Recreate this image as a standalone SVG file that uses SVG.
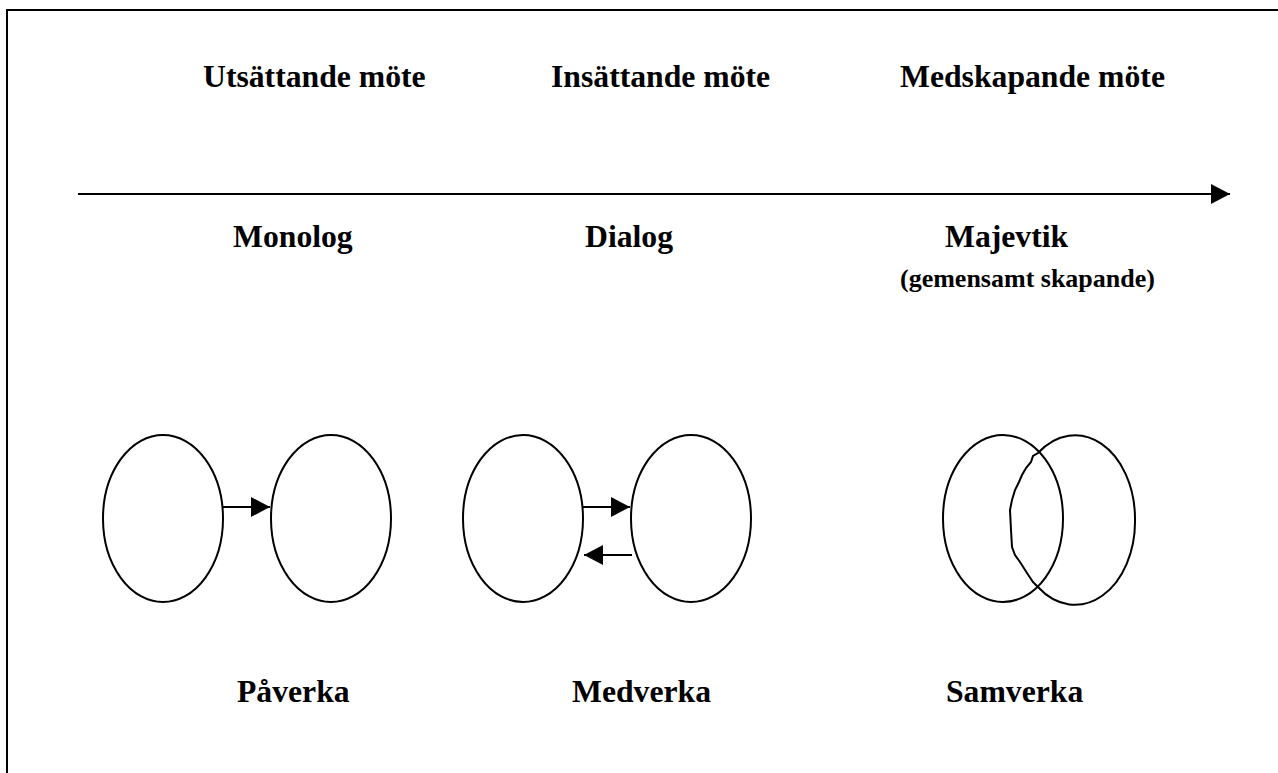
<svg xmlns="http://www.w3.org/2000/svg" width="1278" height="773" viewBox="0 0 1278 773">
<style>
text{font-family:"Liberation Serif","Times New Roman",serif;font-weight:bold;fill:#000}
.t{font-size:31.7px}
.s{font-size:26px}
.sh{fill:none;stroke:#000;stroke-width:2}
.ln{fill:none;stroke:#000;stroke-width:2}
</style>
<defs>
<marker id="ah" markerWidth="20" markerHeight="20" refX="19" refY="10" orient="auto" markerUnits="userSpaceOnUse">
<path d="M0,0 L19,10 L0,20 Z" fill="#000"/>
</marker>
</defs>
<rect x="7" y="10" width="1290" height="790" fill="none" stroke="#000" stroke-width="2"/>
<g id="labels">
<text class="t" x="203" y="87">Utsättande möte</text>
<text class="t" x="551" y="87">Insättande möte</text>
<text class="t" x="900" y="87">Medskapande möte</text>
<text class="t" x="233" y="247">Monolog</text>
<text class="t" x="585" y="247">Dialog</text>
<text class="t" x="945" y="247">Majevtik</text>
<text class="s" x="900" y="287">(gemensamt skapande)</text>
<text class="t" x="237" y="702">Påverka</text>
<text class="t" x="572" y="702">Medverka</text>
<text class="t" x="946" y="702">Samverka</text>
</g>
<g id="monolog-a"><ellipse class="sh" cx="163" cy="518.5" rx="60" ry="83.5"/></g>
<g id="monolog-b"><ellipse class="sh" cx="331" cy="518.5" rx="60" ry="83.5"/></g>
<g id="dialog-a"><ellipse class="sh" cx="523" cy="518.5" rx="60" ry="83.5"/></g>
<g id="dialog-b"><ellipse class="sh" cx="691" cy="518.5" rx="60" ry="83.5"/></g>
<g id="samverka-a"><ellipse class="sh" cx="1003" cy="518.5" rx="60" ry="83.5"/></g>
<g id="samverka-b"><path class="sh" d="M1038,453 A60,83.5 0 0 1 1135,518.5 A60,83.5 0 0 1 1038,587 L1033,582 L1027,573 L1020,562 L1015,555 L1012,547 L1011,530 L1010,510 L1012,500 L1015,490 L1019,482 L1022,475 L1026,468 L1031,462 L1033,456 Z"/></g>
<g id="connectors">
<line class="ln" x1="78" y1="194" x2="1230" y2="194" marker-end="url(#ah)"/>
<line class="ln" x1="223" y1="507" x2="270" y2="507" marker-end="url(#ah)"/>
<line class="ln" x1="583" y1="507" x2="630" y2="507" marker-end="url(#ah)"/>
<line class="ln" x1="632" y1="555" x2="584" y2="555" marker-end="url(#ah)"/>
</g>
</svg>
